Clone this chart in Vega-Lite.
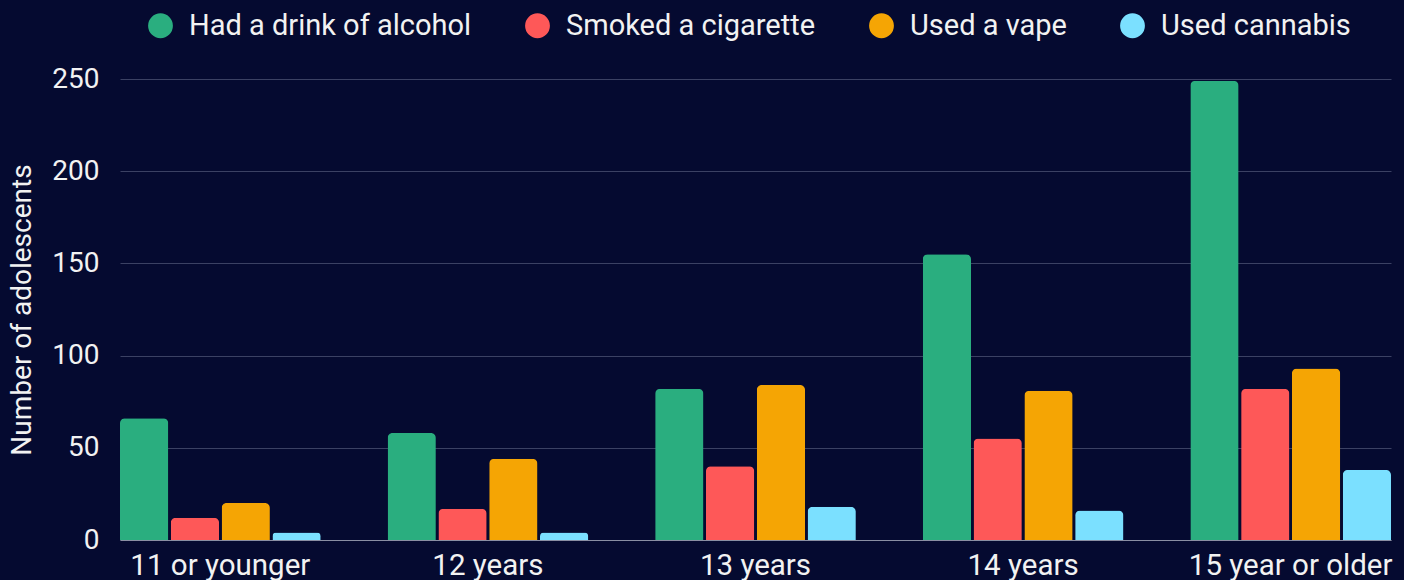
{
  "$schema": "https://vega.github.io/schema/vega-lite/v6.json",
  "width": 1271,
  "height": 461,
  "autosize": {"type": "none"},
  "padding": {"left": 120, "top": 79, "right": 13, "bottom": 40},
  "background": "#050a30",
  "data": {
    "values": [
      {"age": "11 or younger", "activity": "Had a drink of alcohol", "count": 66},
      {"age": "11 or younger", "activity": "Smoked a cigarette", "count": 12},
      {"age": "11 or younger", "activity": "Used a vape", "count": 20},
      {"age": "11 or younger", "activity": "Used cannabis", "count": 4},
      {"age": "12 years", "activity": "Had a drink of alcohol", "count": 58},
      {"age": "12 years", "activity": "Smoked a cigarette", "count": 17},
      {"age": "12 years", "activity": "Used a vape", "count": 44},
      {"age": "12 years", "activity": "Used cannabis", "count": 4},
      {"age": "13 years", "activity": "Had a drink of alcohol", "count": 82},
      {"age": "13 years", "activity": "Smoked a cigarette", "count": 40},
      {"age": "13 years", "activity": "Used a vape", "count": 84},
      {"age": "13 years", "activity": "Used cannabis", "count": 18},
      {"age": "14 years", "activity": "Had a drink of alcohol", "count": 155},
      {"age": "14 years", "activity": "Smoked a cigarette", "count": 55},
      {"age": "14 years", "activity": "Used a vape", "count": 81},
      {"age": "14 years", "activity": "Used cannabis", "count": 16},
      {"age": "15 year or older", "activity": "Had a drink of alcohol", "count": 249},
      {"age": "15 year or older", "activity": "Smoked a cigarette", "count": 82},
      {"age": "15 year or older", "activity": "Used a vape", "count": 93},
      {"age": "15 year or older", "activity": "Used cannabis", "count": 38}
    ]
  },
  "mark": {"type": "bar", "cornerRadiusTopLeft": 5, "cornerRadiusTopRight": 5},
  "encoding": {
    "x": {
      "field": "age",
      "type": "nominal",
      "sort": ["11 or younger", "12 years", "13 years", "14 years", "15 year or older"],
      "scale": {"paddingInner": 0.25, "paddingOuter": 0},
      "axis": {
        "title": null,
        "labelAngle": 0,
        "ticks": false,
        "grid": false,
        "domainColor": "#8a8fa3",
        "domainWidth": 1,
        "labelColor": "#f2f2f2",
        "labelFontSize": 29.5,
        "labelFont": "Roboto",
        "labelPadding": 11,
        "labelLimit": 0,
        "labelOverlap": false
      }
    },
    "xOffset": {
      "field": "activity",
      "type": "nominal",
      "sort": ["Had a drink of alcohol", "Smoked a cigarette", "Used a vape", "Used cannabis"],
      "scale": {"paddingInner": 0.05, "paddingOuter": 0}
    },
    "y": {
      "field": "count",
      "type": "quantitative",
      "scale": {"domain": [0, 250]},
      "axis": {
        "title": "Number of adolescents",
        "values": [0, 50, 100, 150, 200, 250],
        "domain": false,
        "ticks": false,
        "gridColor": "#3b4163",
        "gridWidth": 1,
        "labelColor": "#f2f2f2",
        "labelFontSize": 28,
        "labelFont": "Roboto",
        "labelPadding": 21,
        "titleColor": "#f2f2f2",
        "titleFontSize": 28,
        "titleFont": "Roboto",
        "titleFontWeight": "normal",
        "titlePadding": 15
      }
    },
    "color": {
      "field": "activity",
      "type": "nominal",
      "scale": {
        "domain": ["Had a drink of alcohol", "Smoked a cigarette", "Used a vape", "Used cannabis"],
        "range": ["#2aae7f", "#fe5858", "#f5a504", "#7be0ff"]
      },
      "legend": {
        "title": null,
        "orient": "none",
        "legendX": 26,
        "legendY": -68,
        "direction": "horizontal",
        "symbolType": "circle",
        "symbolSize": 616,
        "symbolStrokeWidth": 0,
        "symbolOpacity": 1,
        "labelFontSize": 29,
        "labelFont": "Roboto",
        "labelColor": "#f2f2f2",
        "labelOffset": 14,
        "labelLimit": 0,
        "columnPadding": 51,
        "padding": 0
      }
    }
  },
  "config": {"view": {"stroke": null}, "font": "Roboto"}
}
